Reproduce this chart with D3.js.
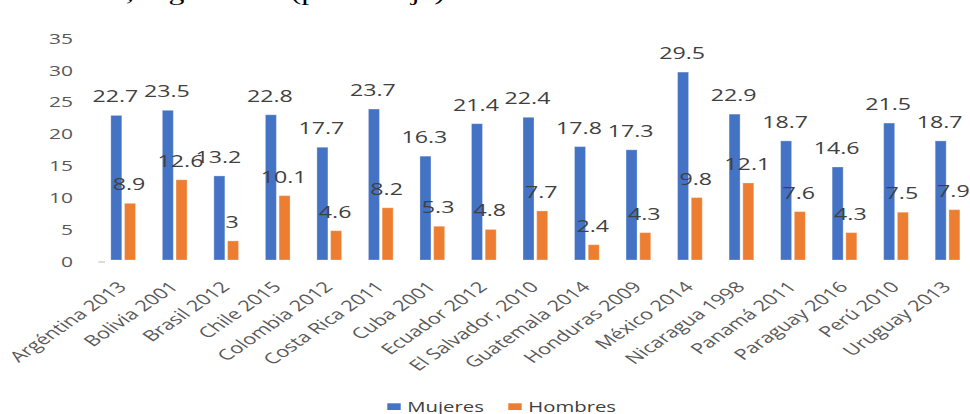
<!DOCTYPE html>
<html>
<head>
<meta charset="utf-8">
<script src="https://cdn.jsdelivr.net/npm/d3@7"></script>
<style>
  html, body { margin: 0; padding: 0; background: #fff; }
  svg { display: block; }
  text { font-family: "Open Sans", "DejaVu Sans", sans-serif; }
</style>
</head>
<body>
<svg id="chart" width="970" height="414"></svg>
<script>
// Países y año del censo / encuesta
const categories = [
  "Argéntina 2013", "Bolivia 2001", "Brasil 2012", "Chile 2015", "Colombia 2012",
  "Costa Rica 2011", "Cuba 2001", "Ecuador 2012", "El Salvador, 2010", "Guatemala 2014",
  "Honduras 2009", "México  2014", "Nicaragua 1998", "Panamá 2011", "Paraguay 2016",
  "Perú 2010", "Uruguay 2013"
];
const seriesNames = ["Mujeres", "Hombres"];
const mujeres = [22.7, 23.5, 13.2, 22.8, 17.7, 23.7, 16.3, 21.4, 22.4, 17.8, 17.3, 29.5, 22.9, 18.7, 14.6, 21.5, 18.7];
const hombres = [8.9, 12.6, 3, 10.1, 4.6, 8.2, 5.3, 4.8, 7.7, 2.4, 4.3, 9.8, 12.1, 7.6, 4.3, 7.5, 7.9];
const yTicks = [0, 5, 10, 15, 20, 25, 30, 35];
const titleText = ", según sexo (porcentaje)";

const colors = { Mujeres: "#4472C4", Hombres: "#ED7D31" };
const SX = 1.45; // horizontal widening applied to all text

const svg = d3.select("#chart");

const rows = categories.map((c, i) => ({ cat: c, Mujeres: mujeres[i], Hombres: hombres[i] }));

const x0 = d3.scaleBand()
  .domain(categories)
  .range([97.4, 973.3])
  .paddingInner(0.5206)
  .paddingOuter(0.2603);

const x1 = d3.scaleBand()
  .domain(seriesNames)
  .range([0, x0.bandwidth()])
  .paddingInner(0.197);

const y = d3.scaleLinear().domain([0, 35]).range([260, 37.05]);

// title line (only its lower edge falls inside the canvas)
svg.append("text")
  .attr("x", 0)
  .attr("y", 0)
  .attr("transform", `translate(126,-0.5) scale(${SX},1)`)
  .style("font-family", "'Liberation Serif', 'Times New Roman', serif")
  .style("font-size", "22px")
  .attr("fill", "#000")
  .text(titleText);

// y axis labels
const yAxis = svg.append("g")
  .attr("transform", "translate(73,0)")
  .call(d3.axisLeft(y).tickValues(yTicks).tickSize(0).tickPadding(0));
yAxis.select(".domain").remove();
yAxis.selectAll("text")
  .attr("x", 0)
  .attr("y", 1.5)
  .attr("transform", `scale(${SX},1)`)
  .style("font-family", "'Open Sans', sans-serif")
  .style("font-size", "14.5px")
  .attr("fill", "#595959");

// small grey mark at the origin
svg.append("rect")
  .attr("x", 98.3).attr("y", y(0) + 1.2)
  .attr("width", 6.7).attr("height", 1.6)
  .attr("fill", "#d4d4d4");

// bars
const groups = svg.append("g").selectAll("g")
  .data(rows)
  .join("g")
  .attr("transform", d => `translate(${x0(d.cat)},0)`);

groups.selectAll("rect")
  .data(d => seriesNames.map(k => ({ key: k, value: d[k] })))
  .join("rect")
  .attr("x", d => x1(d.key))
  .attr("y", d => y(d.value))
  .attr("width", x1.bandwidth())
  .attr("height", d => y(0) - y(d.value))
  .attr("fill", d => colors[d.key])
  .attr("stroke", "#ffffff")
  .attr("stroke-opacity", 0.3)
  .attr("stroke-width", 1);

// value labels
groups.selectAll("text.val")
  .data(d => seriesNames.map(k => ({ key: k, value: d[k] })))
  .join("text")
  .attr("class", "val")
  .attr("transform", d => `translate(${x1(d.key) + x1.bandwidth() / 2 - 1},${y(d.value) - 13}) scale(${SX},1)`)
  .attr("text-anchor", "middle")
  .style("font-size", "16px")
  .attr("fill", "#404040")
  .text(d => d.value);

// category axis
const xAxis = svg.append("g")
  .attr("transform", `translate(0,${y(0)})`)
  .call(d3.axisBottom(x0).tickSize(0).tickPadding(0));
xAxis.select(".domain").remove();
xAxis.selectAll("text")
  .attr("x", 0).attr("y", 0).attr("dy", 0)
  .attr("text-anchor", "end")
  .attr("transform", `translate(4.5,28) scale(${SX},1) rotate(-45)`)
  .style("font-family", "'Open Sans', sans-serif")
  .style("font-size", "15px")
  .attr("fill", "#595959");

// legend
const legend = svg.append("g").selectAll("g")
  .data(seriesNames)
  .join("g")
  .attr("transform", (d, i) => `translate(${387.3 + i * 121},0)`);
legend.append("rect")
  .attr("x", 0).attr("y", 403.3)
  .attr("width", 13.4).attr("height", 6.7)
  .attr("fill", d => colors[d]);
legend.append("text")
  .attr("transform", `translate(20,411.7) scale(${SX},1)`)
  .style("font-size", "14px")
  .attr("fill", "#404040")
  .text(d => d);
</script>
</body>
</html>
